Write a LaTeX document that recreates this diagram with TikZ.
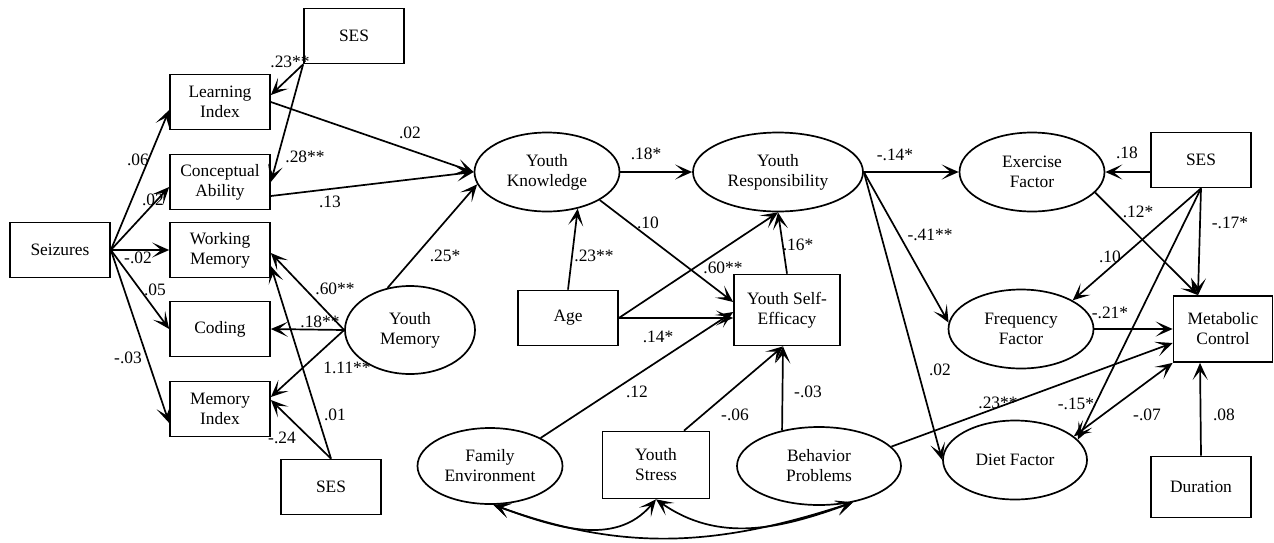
\documentclass[tikz,border=0pt]{standalone}
\usepackage{fontspec}
\setmainfont{Liberation Serif}
\usepackage{tikz}
\usetikzlibrary{arrows.meta,shapes.geometric}

\begin{document}
\begin{tikzpicture}[x=0.5pt,y=-0.5pt,line width=0.85pt,
    >={Stealth[length=8.5pt,width=7.5pt,inset=4.5pt]},
    every node/.style={font=\fontsize{8.7}{10}\selectfont},
    box/.style={draw,align=center,minimum width=50pt,minimum height=27.5pt,inner sep=1pt},
    ell/.style={draw,ellipse,align=center,minimum width=72.5pt,minimum height=39.5pt,inner sep=0pt},
    lab/.style={inner sep=1pt}]
        \useasboundingbox (0,0) rectangle (1274,542);

        % measures
        \node[box] (s) at (60,250) {Seizures};
        \node[box] (li) at (220,102) {Learning\\Index};
        \node[box] (ca) at (220,182) {Conceptual\\Ability};
        \node[box] (wm) at (220,250) {Working\\Memory};
        \node[box] (cod) at (220,329) {Coding};
        \node[box] (mi) at (220,409) {Memory\\Index};
        \node[box] (ses1) at (354,36) {SES};
        \node[box] (ses2) at (331,487) {SES};
        \node[ell,minimum width=65pt,minimum height=44pt] (ym) at (410,330) {Youth\\Memory};

        % youth
        \node[ell] (yk) at (547,172) {Youth\\Knowledge};
        \node[ell,minimum width=85pt] (yr) at (778,172) {Youth\\Responsibility};
        \node[box] (age) at (568,318) {Age};
        \node[box,minimum width=53pt,minimum height=35.5pt] (yse) at (787,310) {Youth Self-\\Efficacy};
        \node[ell,minimum height=38pt] (fe) at (490,466) {Family\\Environment};
        \node[box,minimum width=53.5pt,minimum height=33.5pt] (ys) at (656,465) {Youth\\Stress};
        \node[ell,minimum width=82pt,minimum height=39pt] (bp) at (819,466) {Behavior\\Problems};

        % outcomes
        \node[ell] (ef) at (1032,172) {Exercise\\Factor};
        \node[ell] (ff) at (1021,329) {Frequency\\Factor};
        \node[ell,minimum width=72pt] (df) at (1015,460) {Diet Factor};
        \node[box] (ses3) at (1201,160) {SES};
        \node[box,minimum width=49.5pt,minimum height=33pt] (mc) at (1223,329) {Metabolic\\Control};
        \node[box,minimum height=30.5pt] (dur) at (1201,487) {Duration};

        \draw[->] (s.east) to ([yshift=-4pt]li.west);
        \draw[->] (s.east) to ([yshift=-2.5pt]ca.west);
        \draw[->] (s.east) to (wm.west);
        \draw[->] (s.east) to (cod.west);
        \draw[->] (s.east) to ([yshift=-7pt]mi.west);
        \draw[->] (ses1.south west) to ([yshift=3.5pt]li.east);
        \draw[->] (ses1.south west) to (ca.east);
        \draw[->] (li.east) to (yk.west);
        \draw[->] ([yshift=-7pt]ca.east) to (yk.west);
        \draw[->] (ym.118) to (yk.190);
        \draw[->] (ym.west) to ([yshift=-1.5pt]wm.east);
        \draw[->] (ym.west) to (cod.east);
        \draw[->] (ym.west) to ([yshift=6pt]mi.east);
        \draw[->] (ses2.north) to ([yshift=-8pt]wm.east);
        \draw[->] (ses2.north) to ([yshift=4.5pt]mi.east);

        \draw[->] (yk.east) to (yr.west);
        \draw[->] (yk.-28) to ([yshift=4pt]yse.west);
        \draw[->] (age.north) to (yk.-50);
        \draw[->] (age.east) to (yr.south);
        \draw[->] (age.east) to ([yshift=-4pt]yse.west);
        \draw[->] (fe.29) to ([yshift=-1pt]yse.west);
        \draw[->] (yse.north) to (yr.south);
        \draw[->] ([xshift=14pt]ys.north) to ([xshift=-2pt]yse.south);
        \draw[->] (bp.136) to ([xshift=-2pt]yse.south);
        \draw[->] (bp.15) to ([yshift=-7pt]mc.west);
        \draw[<->] (fe.-85) to[out=-20, in=-130] (ys.south);
        \draw[<->] (ys.south) to[out=-35, in=-160] (bp.-47);
        \draw[<->] (fe.-85) to[out=-20, in=-162] (bp.-47);

        \draw[->] (yr.east) to (ef.west);
        \draw[->] (yr.east) to (ff.175);
        \draw[->] (yr.east) to (df.west);
        \draw[->] ([yshift=-6pt]ses3.west) to (ef.east);
        \draw[->] (ses3.south) to (ff.29);
        \draw[->] (ses3.south) to ([xshift=-12.5pt]mc.north);
        \draw[->] (ses3.south) to (df.18);
        \draw[->] (ef.-18) to ([xshift=-12.5pt]mc.north);
        \draw[->] (ff.east) to (mc.west);
        \draw[<->] (df.22) to (mc.south west);
        \draw[->] (dur.north) to ([xshift=-11.5pt]mc.south);

        % coefficients
        \node[lab] (c1) at (138,160) {.06};
        \node[lab] (c2) at (153,200) {.02};
        \node[lab] (c3) at (138,258) {-.02};
        \node[lab] (c4) at (155,290) {.05};
        \node[lab] (c5) at (128,358) {-.03};
        \node[lab] (c6) at (290,62) {.23**};
        \node[lab] (c7) at (305,157) {.28**};
        \node[lab] (c8) at (410,133) {.02};
        \node[lab] (c9) at (330,202) {.13};
        \node[lab] (c10) at (445,256) {.25*};
        \node[lab] (c11) at (335,289) {.60**};
        \node[lab] (c12) at (320,322) {.18**};
        \node[lab] (c13) at (347,368) {1.11**};
        \node[lab] (c14) at (335,415) {.01};
        \node[lab] (c15) at (282,438) {-.24};
        \node[lab] (c16) at (646,154) {.18*};
        \node[lab] (c17) at (648,223) {.10};
        \node[lab] (c18) at (594,256) {.23**};
        \node[lab] (c19) at (723,268) {.60**};
        \node[lab] (c20) at (658,337) {.14*};
        \node[lab] (c21) at (798,245) {.16*};
        \node[lab] (c22) at (637,392) {.12};
        \node[lab] (c23) at (735,415) {-.06};
        \node[lab] (c24) at (808,392) {-.03};
        \node[lab] (c25) at (895,155) {-.14*};
        \node[lab] (c26) at (930,235) {-.41**};
        \node[lab] (c27) at (940,370) {.02};
        \node[lab] (c28) at (1127,153) {.18};
        \node[lab] (c29) at (1138,212) {.12*};
        \node[lab] (c30) at (1230,223) {-.17*};
        \node[lab] (c31) at (1110,257) {.10};
        \node[lab] (c32) at (1110,313) {-.21*};
        \node[lab] (c33) at (998,403) {.23**};
        \node[lab] (c34) at (1076,404) {-.15*};
        \node[lab] (c35) at (1147,415) {-.07};
        \node[lab] (c36) at (1224,415) {.08};
\end{tikzpicture}
\end{document}
